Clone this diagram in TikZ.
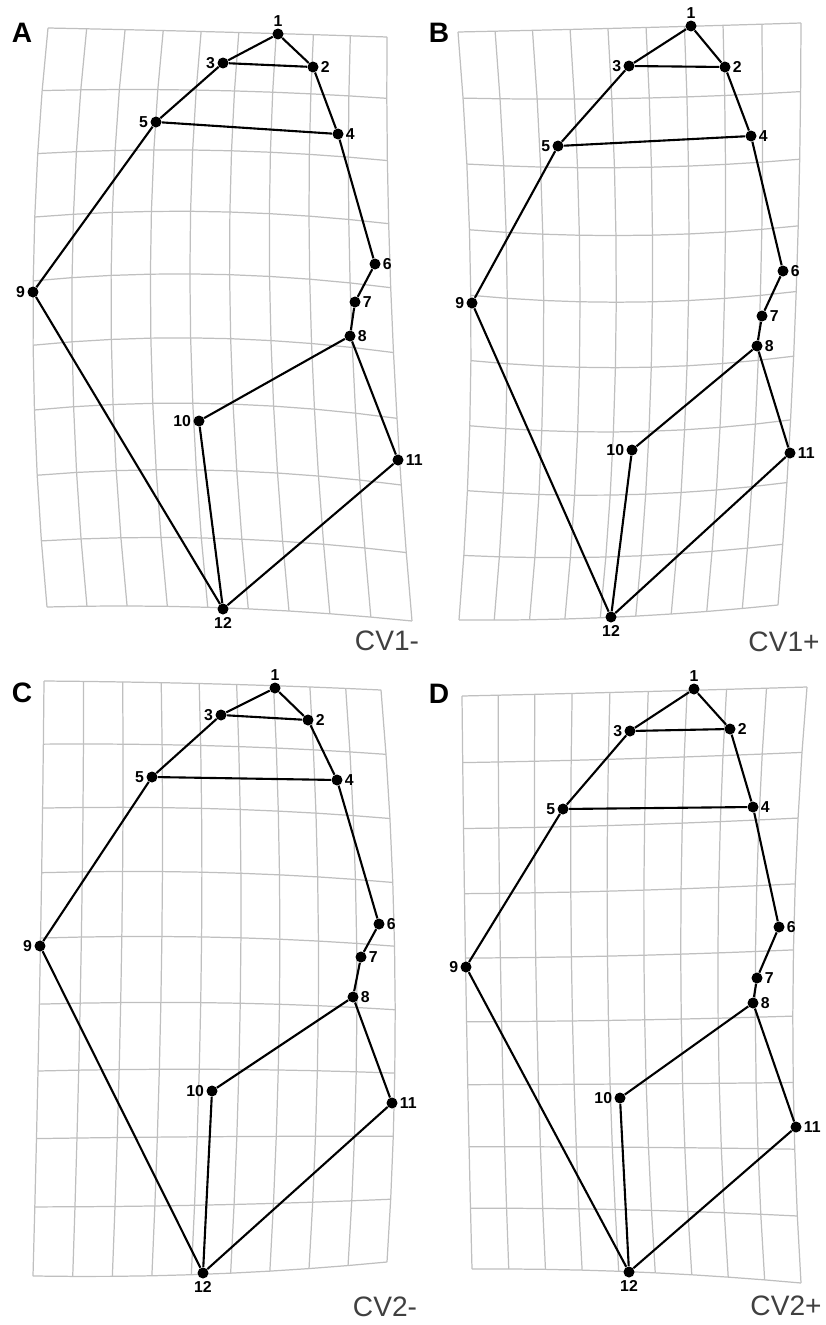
\documentclass[tikz,border=0pt]{standalone}
\usepackage{fontspec}
\setmainfont{Liberation Sans}

% warped grid from 3x3 control points (top row, middle row, bottom row)
\newcommand{\warpgrid}[2]{%
  \def\wx{{#1}}%
  \def\wy{{#2}}%
  \foreach \i in {0,...,9}{
    \foreach \j in {0,...,9}{
      \pgfmathsetmacro{\su}{\i/9}
      \pgfmathsetmacro{\sv}{\j/9}
      \pgfmathsetmacro{\gx}{qa(\sv)*(qa(\su)*\wx[0]+qb(\su)*\wx[1]+qc(\su)*\wx[2])
        +qb(\sv)*(qa(\su)*\wx[3]+qb(\su)*\wx[4]+qc(\su)*\wx[5])
        +qc(\sv)*(qa(\su)*\wx[6]+qb(\su)*\wx[7]+qc(\su)*\wx[8])}
      \pgfmathsetmacro{\gy}{qa(\sv)*(qa(\su)*\wy[0]+qb(\su)*\wy[1]+qc(\su)*\wy[2])
        +qb(\sv)*(qa(\su)*\wy[3]+qb(\su)*\wy[4]+qc(\su)*\wy[5])
        +qc(\sv)*(qa(\su)*\wy[6]+qb(\su)*\wy[7]+qc(\su)*\wy[8])}
      \coordinate (g-\i-\j) at (\gx,\gy);
    }
  }
  \foreach \i in {0,...,9}
    \draw[gridline] (g-\i-0) \foreach \j in {1,...,9}{ -- (g-\i-\j)};
  \foreach \j in {0,...,9}
    \draw[gridline] (g-0-\j) \foreach \i in {1,...,9}{ -- (g-\i-\j)};
}

% twelve landmarks and their links
\newcommand{\landmarks}[2]{%
  \foreach \x/\y/\where [count=\n] in {#2}
    \node[landmark, label/.expanded={[lmlabel]\where:\n}] (#1\n) at (\x,\y) {};
  \foreach \s/\t in {1/2,1/3,3/2,3/5,2/4,5/4,5/9,4/6,6/7,7/8,8/10,8/11,10/12,9/12,11/12}
    \draw[linkline] (#1\s) -- (#1\t);
}

\begin{document}
\begin{tikzpicture}[
    x=0.02cm, y=-0.02cm,
    % Define Styles
    declare function={
        qa(\t)=2*(\t-0.5)*(\t-1);
        qb(\t)=4*\t*(1-\t);
        qc(\t)=2*\t*(\t-0.5);
    },
    gridline/.style={
        draw=black!25,
        line width=0.7pt,
        line join=round
    },
    linkline/.style={
        draw,
        line width=1.2pt
    },
    landmark/.style={
        circle,
        fill=black,
        inner sep=0pt,
        minimum size=0.22cm,
        label distance=0.065cm
    },
    lmlabel/.style={
        font=\fontsize{9}{10}\selectfont\bfseries,
        inner sep=1pt
    },
    panel/.style={
        font=\fontsize{16}{18}\selectfont\bfseries
    },
    cvtext/.style={
        font=\fontsize{16}{18}\selectfont,
        text=black!75
    }
    ]

    \useasboundingbox (0,0) rectangle (825,1325);

    % Panel A
    \warpgrid{48,220,387, 33,210,392, 47,228,412}{28,32,37, 313,306,320, 607,608,621}
    \landmarks{a}{278/34/above, 313/67/right, 223/63/left, 338/134/right,
        156/122/left, 375/264/right, 355/302/right, 350/336/right,
        33/292/left, 199/421/left, 398/460/right, 223/609/below}
    \node[panel] (labA) at (22,33) {A};
    \node[cvtext] (cvA) at (387,641) {CV1-};

    % Panel B
    \warpgrid{458,627,801, 471,634,795, 459,618,778}{32,28,23, 328,335,324, 620,617,605}
    \landmarks{b}{691/26/above, 725/67/right, 629/66/left, 751/136/right,
        558/146/left, 783/271/right, 762/316/right, 757/346/right,
        472/303/left, 632/450/left, 790/453/right, 611/617/below}
    \node[panel] (labB) at (439,33) {B};
    \node[cvtext] (cvB) at (784,642) {CV1+};

    % Panel C
    \warpgrid{44,218,381, 40,221,395, 33,211,387}{681,684,690, 971,970,978, 1276,1274,1262}
    \landmarks{c}{275/688/above, 308/720/right, 221/715/left, 337/780/right,
        152/777/left, 379/924/right, 361/957/right, 353/997/right,
        40/946/left, 212/1091/left, 392/1103/right, 203/1273/below}
    \node[panel] (labC) at (22,693) {C};
    \node[cvtext] (cvC) at (385,1307) {CV2-};

    % Panel D
    \warpgrid{462,629,807, 466,626,793, 472,637,801}{696,692,687, 990,988,983, 1269,1272,1283}
    \landmarks{d}{694/689/above, 730/729/right, 630/731/left, 753/807/right,
        563/809/left, 779/927/right, 757/978/right, 753/1003/right,
        466/967/left, 620/1098/left, 796/1127/right, 629/1272/below}
    \node[panel] (labD) at (439,694) {D};
    \node[cvtext] (cvD) at (786,1306) {CV2+};

\end{tikzpicture}
\end{document}
